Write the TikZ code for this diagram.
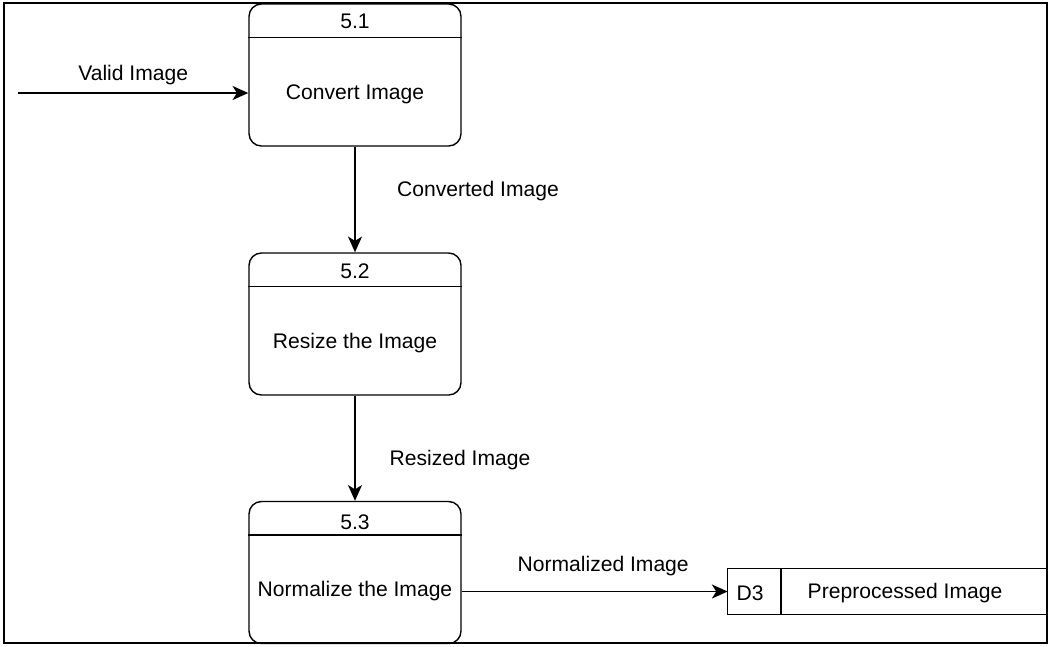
\documentclass[tikz,border=0pt]{standalone}
\usepackage{fontspec}
\setmainfont{Liberation Sans}
\usetikzlibrary{arrows.meta}
\tikzset{
  process/.style={draw, line width=0.8pt, rounded corners=7pt,
    minimum width=4.24cm, minimum height=2.84cm},
  store/.style={draw=none, minimum width=6.38cm, minimum height=0.9cm},
  flow/.style={-{Stealth[length=9pt,width=8pt,inset=2.5pt]}, line width=0.8pt},
}
\begin{document}
\begin{tikzpicture}[x=0.02cm, y=-0.02cm, font=\fontsize{12}{14}\selectfont]
  \useasboundingbox (0,0) rectangle (1050,646);
  \draw[line width=0.8pt] (4,3) rectangle (1047,643);
  % processes
  \node[process] (p1) at (355,75) {};
  \node[process] (p2) at (355,324) {};
  \node[process] (p3) at (355,572.5) {};
  \foreach \p in {p1,p2,p3}
    \draw[line width=0.8pt] ([yshift=-0.68cm]\p.north west) -- ([yshift=-0.68cm]\p.north east);
  \node (p1num) at (355,21) {5.1};
  \node (p1txt) at (355,94) {Convert Image};
  \node (p2num) at (355,271) {5.2};
  \node (p2txt) at (355,343) {Resize the Image};
  \node (p3num) at (355,522) {5.3};
  \node (p3txt) at (355,591) {Normalize the Image};
  % data store
  \node[store] (d3) at (887.5,591.5) {};
  \draw[line width=0.8pt] (d3.north east) -- (d3.north west) -- (d3.south west) -- (d3.south east);
  \draw[line width=0.8pt] (781,569) -- (781,614);
  \node (d3id) at (750,593) {D3};
  \node (d3txt) at (905,593) {Preprocessed Image};
  % flows
  \coordinate (src) at (18,93);
  \draw[flow] (src) -- node[midway, yshift=0.36cm] {Valid Image} (src -| p1.west);
  \draw[flow] (p1.south) -- node[midway, xshift=2.46cm, yshift=0.16cm] {Converted Image} (p2.north);
  \draw[flow] (p2.south) -- node[midway, xshift=2.1cm, yshift=-0.23cm] {Resized Image} (p3.north);
  \draw[flow] (p3.east |- d3.west) -- node[midway, xshift=0.17cm, yshift=0.51cm] {Normalized Image} (d3.west);
\end{tikzpicture}
\end{document}
